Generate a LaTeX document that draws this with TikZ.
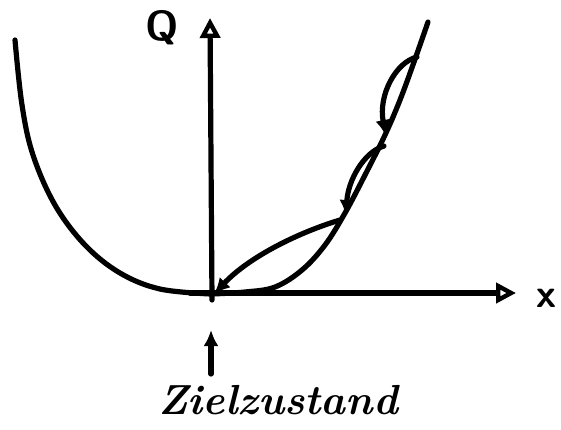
\documentclass[tikz,border=0pt]{standalone}
\usetikzlibrary{arrows.meta}
\begin{document}
\begin{tikzpicture}[x=1pt,y=-1pt,
  pen/.style={line width=5.2pt,line cap=round,line join=round},
  axis/.style={pen,-{Triangle[open,length=20pt,width=20pt,line width=4.4pt]}},
  flow/.style={pen,-{Latex[length=16pt,width=15pt]}},
  lbl/.style={inner sep=0pt,font=\fontsize{42}{42}\selectfont\bfseries\itshape}]
\useasboundingbox (0,0) rectangle (561,429);
\coordinate (O) at (211,294);
\coordinate (ytop) at (210,18);
\coordinate (yb) at (212,300);
\coordinate (xl) at (190,293);
\coordinate (xr) at (516,293);
\draw[axis] (yb) -- (ytop);
\draw[axis] (xl) -- (xr);
\node[lbl,font=\fontsize{42}{42}\selectfont\sffamily\bfseries] (Q) at (162,28) {Q};
\node[lbl,font=\fontsize{40}{40}\selectfont\sffamily\bfseries] (X) at (546,298) {x};
% parabola
\draw[pen] plot[smooth,tension=0.6] coordinates {(15,40) (22,105) (33,155) (55,205) (85,245) (120,273) (160,289) (211,294)};
\draw[pen] plot[smooth,tension=0.6] coordinates {(211,294) (245,292) (275,287) (302,270) (325,245) (345,213) (365,175) (385,135) (400,100) (414,62) (428,22)};
% oscillation
\coordinate (p1) at (417,57);
\coordinate (p2) at (386,136);
\coordinate (p3) at (384,146);
\coordinate (p4) at (346,216);
\coordinate (p5) at (340,220);
\coordinate (p6) at (214,294);
\draw[flow] (p1) .. controls (396,62) and (378,95) .. (p2);
\draw[flow] (p3) .. controls (364,152) and (348,180) .. (p4);
\draw[flow] (p5) .. controls (300,232) and (250,256) .. (p6);
% target
\coordinate (t1) at (211,374);
\coordinate (t2) at (211,330);
\draw[flow] (t1) -- (t2);
\node[lbl] (Z) at (278,400) {Zielzustand};
\end{tikzpicture}
\end{document}
